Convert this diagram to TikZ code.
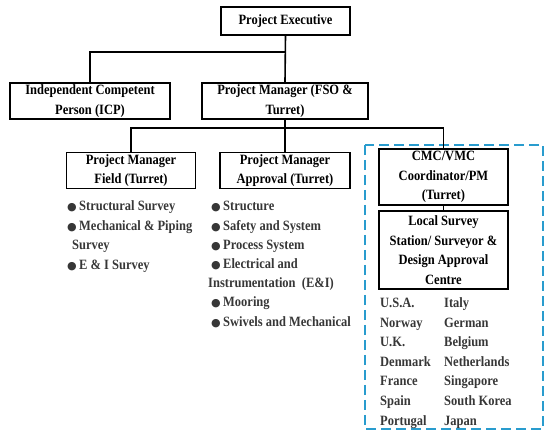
\documentclass[tikz,border=0pt]{standalone}
\usepackage{fontspec}
\setmainfont[FakeStretch=0.88]{Liberation Serif}
\newfontfamily\dotfont{DejaVu Sans}
\usepackage{xcolor}
\definecolor{frameblue}{RGB}{41,156,206}
\definecolor{listgray}{RGB}{55,55,55}
\newcommand{\dotitem}{{\dotfont\fontsize{11}{11}\selectfont ●}\,}

\begin{document}
\begin{tikzpicture}[x=1pt,y=-1pt,
  box/.style={draw, line width=1.6pt, rectangle, align=center, inner sep=2pt, font=\bfseries\fontsize{14.2}{19.5}\selectfont},
  item/.style={anchor=base west, inner sep=0pt, text=listgray, font=\bfseries\fontsize{14.2}{15}\selectfont},
  link/.style={line width=1.6pt},
  dashframe/.style={draw=frameblue, line width=2.6pt, dash pattern=on 10pt off 5pt}]
\useasboundingbox (0,0) rectangle (550,441);

% dashed frame round the local survey branch
\draw[dashframe] (365,145) rectangle (543,429);

\node (exec) [box, minimum width=129pt, minimum height=28pt] at (285.5,21) {Project Executive};

\node (icp) [box, minimum width=160pt, minimum height=34pt] at (90,101) {Independent Competent\\Person (ICP)};
\node (pm) [box, minimum width=166pt, minimum height=34pt] at (285,101) {Project Manager (FSO \&\\Turret)};

\node (field) [box, minimum width=129pt, minimum height=35pt] at (131,170.5) {Project Manager\\Field (Turret)};
\node (approval) [box, minimum width=130pt, minimum height=35pt] at (285,170.5) {Project Manager\\Approval (Turret)};
\node (cmc) [box, minimum width=129pt, minimum height=56pt] at (443.5,177) {CMC/VMC\\Coordinator/PM\\(Turret)};
\node (station) [box, minimum width=129pt, minimum height=78pt] at (443.5,250) {Local Survey\\Station/ Surveyor \&\\Design Approval\\Centre};

% connectors
\coordinate (split1) at (285,52);
\coordinate (split2) at (285,128);
\draw[link] (exec.south) -- (pm.north);
\draw[link] (split1) -| (icp.north);
\draw[link] (pm.south) -- (split2);
\draw[link] (split2) -| (field.north);
\draw[link] (split2) -- (approval.north);
\draw[link] (split2) -| (cmc.north);
\draw[link] (cmc.south) -- (station.north);

% duty lists
\foreach \xpos/\txt [count=\i from 0] in {67/\dotitem Structural\ Survey, 67/\dotitem Mechanical \& Piping, 72/Survey, 67/\dotitem E \& I Survey}
  \node (fielditem\i) [item] at (\xpos,{211+19.5*\i}) {\txt};
\foreach \xpos/\txt [count=\i from 0] in {211/\dotitem Structure, 211/\dotitem Safety and System, 211/\dotitem Process System, 211/\dotitem Electrical and, 208/Instrumentation\ \ (E\&I), 211/\dotitem Mooring, 211/\dotitem Swivels and Mechanical}
  \node (apprvitem\i) [item] at (\xpos,{211+19.2*\i}) {\txt};

% countries
\foreach \west/\east [count=\i from 0] in {U.S.A./Italy, Norway/German, U.K./Belgium, Denmark/Netherlands, France/Singapore, Spain/South Korea, Portugal/Japan} {
  \node (countryw\i) [item] at (380,{308+19.5*\i}) {\west};
  \node (countrye\i) [item] at (444,{308+19.5*\i}) {\east};
}
\end{tikzpicture}
\end{document}
